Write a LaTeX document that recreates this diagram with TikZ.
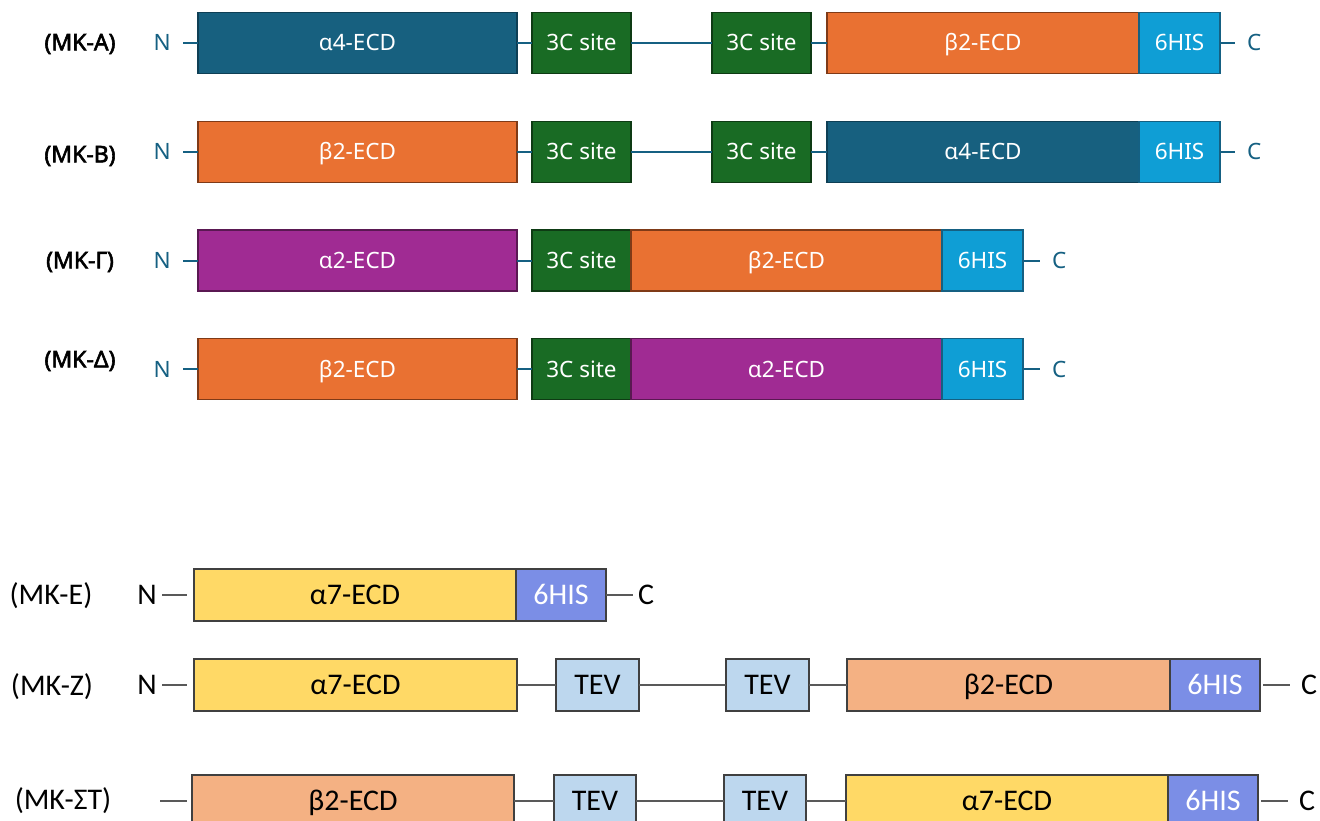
\documentclass[tikz,border=0pt]{standalone}
\usepackage{fontspec}
\usetikzlibrary{positioning}

\newfontfamily\topfont[AutoFakeBold=2.5]{Noto Sans}
\newfontfamily\botfont{Carlito}

\definecolor{a4fill}{HTML}{17607F}
\definecolor{a4line}{HTML}{0E3F55}
\definecolor{b2fill}{HTML}{E97132}
\definecolor{b2line}{HTML}{7F3A17}
\definecolor{a2fill}{HTML}{A02B93}
\definecolor{a2line}{HTML}{5A1852}
\definecolor{c3fill}{HTML}{196B24}
\definecolor{c3line}{HTML}{0E3B14}
\definecolor{hisfill}{HTML}{0F9ED5}
\definecolor{hisline}{HTML}{156082}
\definecolor{tline}{HTML}{156082}
\definecolor{a7fill}{HTML}{FFD966}
\definecolor{sfill}{HTML}{F4B183}
\definecolor{tevfill}{HTML}{BDD7EE}
\definecolor{bhisfill}{HTML}{7B8EE6}
\definecolor{bedge}{HTML}{404040}
\definecolor{blinec}{HTML}{595959}

\tikzset{
  tdom/.style={draw, rectangle, outer sep=0pt, inner sep=0pt, minimum height=61pt, line width=1.2pt, text=white, text height=16pt, text depth=0pt, font=\topfont\fontsize{22.5}{26}\selectfont},
  a4dom/.style={tdom, fill=a4fill, draw=a4line, minimum width=319pt},
  b2dom/.style={tdom, fill=b2fill, draw=b2line, minimum width=319pt},
  a2dom/.style={tdom, fill=a2fill, draw=a2line, minimum width=319pt},
  c3dom/.style={tdom, fill=c3fill, draw=c3line, minimum width=99pt},
  hisdom/.style={tdom, fill=hisfill, draw=hisline, minimum width=81pt},
  tlbl/.style={font=\topfont\bfseries\fontsize{23}{27}\selectfont},
  tterm/.style={text=tline, inner xsep=12pt, inner ysep=0pt, text height=16pt, text depth=0pt, font=\topfont\fontsize{22.5}{26}\selectfont},
  tlink/.style={draw=tline, line width=2pt},
  bdom/.style={draw=bedge, rectangle, outer sep=0pt, inner sep=0pt, minimum height=52pt, line width=1.2pt, text height=19.5pt, text depth=0pt, font=\botfont\fontsize{30}{36}\selectfont},
  a7dom/.style={bdom, fill=a7fill, minimum width=322pt},
  sdom/.style={bdom, fill=sfill, minimum width=322pt},
  tevdom/.style={bdom, fill=tevfill, minimum width=83pt},
  bhisdom/.style={bdom, fill=bhisfill, text=white, minimum width=90pt},
  blbl/.style={font=\botfont\fontsize{30}{36}\selectfont},
  bterm/.style={inner xsep=5pt, inner ysep=0pt, text height=19.5pt, text depth=0pt, font=\botfont\fontsize{30}{36}\selectfont},
  blink/.style={draw=blinec, line width=1.5pt}
}

\begin{document}
\begin{tikzpicture}[x=1pt, y=-1pt]
  \clip (0,0) rectangle (1320,821);

  % MK-A
  \node[tlbl] (lblA) at (80,44) {(MK-A)};
  \node[a4dom, anchor=west] (a4A) at (198,43) {α4-ECD};
  \node[tterm, left=15pt of a4A] (nA) {N};
  \node[c3dom, right=15pt of a4A] (s1A) {3C site};
  \node[c3dom, right=81pt of s1A] (s2A) {3C site};
  \node[b2dom, minimum width=312pt, right=16pt of s2A] (b2A) {β2-ECD};
  \node[hisdom, right=0pt of b2A] (hA) {6HIS};
  \node[tterm, right=15pt of hA] (cA) {C};
  \draw[tlink] (nA) -- (a4A) (a4A) -- (s1A) (s1A) -- (s2A) (s2A) -- (b2A) (hA) -- (cA);

  % MK-B
  \node[tlbl] (lblB) at (80,156) {(MK-B)};
  \node[b2dom, anchor=west] (b2B) at (198,152) {β2-ECD};
  \node[tterm, left=15pt of b2B] (nB) {N};
  \node[c3dom, right=15pt of b2B] (s1B) {3C site};
  \node[c3dom, right=81pt of s1B] (s2B) {3C site};
  \node[a4dom, minimum width=312pt, right=16pt of s2B] (a4B) {α4-ECD};
  \node[hisdom, right=0pt of a4B] (hB) {6HIS};
  \node[tterm, right=15pt of hB] (cB) {C};
  \draw[tlink] (nB) -- (b2B) (b2B) -- (s1B) (s1B) -- (s2B) (s2B) -- (a4B) (hB) -- (cB);

  % MK-Gamma
  \node[tlbl] (lblG) at (80,262) {(MK-Γ)};
  \node[a2dom, anchor=west] (a2G) at (198,260.5) {α2-ECD};
  \node[tterm, left=15pt of a2G] (nG) {N};
  \node[c3dom, right=15pt of a2G] (sG) {3C site};
  \node[b2dom, minimum width=311pt, right=0pt of sG] (b2G) {β2-ECD};
  \node[hisdom, right=0pt of b2G] (hG) {6HIS};
  \node[tterm, right=17pt of hG] (cG) {C};
  \draw[tlink] (nG) -- (a2G) (a2G) -- (sG) (hG) -- (cG);

  % MK-Delta
  \node[tlbl] (lblD) at (80,361) {(MK-Δ)};
  \node[b2dom, anchor=west] (b2D) at (198,369) {β2-ECD};
  \node[tterm, left=15pt of b2D] (nD) {N};
  \node[c3dom, right=15pt of b2D] (sD) {3C site};
  \node[a2dom, minimum width=311pt, right=0pt of sD] (a2D) {α2-ECD};
  \node[hisdom, right=0pt of a2D] (hD) {6HIS};
  \node[tterm, right=17pt of hD] (cD) {C};
  \draw[tlink] (nD) -- (b2D) (b2D) -- (sD) (hD) -- (cD);

  % MK-E
  \node[blbl] (lblE) at (51,596) {(MK-E)};
  \node[a7dom, anchor=west] (a7E) at (194,595) {α7-ECD};
  \node[bhisdom, right=0pt of a7E] (hE) {6HIS};
  \node[bterm, left=32pt of a7E] (nE) {N};
  \node[bterm, right=27pt of hE] (cE) {C};
  \draw[blink, shorten >=7pt] (nE) -- (a7E);
  \draw[blink] (hE) -- (cE);

  % MK-Z
  \node[blbl] (lblZ) at (52,687) {(MK-Z)};
  \node[a7dom, minimum width=323pt, anchor=west] (a7Z) at (194,685) {α7-ECD};
  \node[bterm, left=32pt of a7Z] (nZ) {N};
  \node[tevdom, right=39pt of a7Z] (t1Z) {TEV};
  \node[tevdom, right=87pt of t1Z] (t2Z) {TEV};
  \node[sdom, minimum width=323pt, right=38pt of t2Z] (b2Z) {β2-ECD};
  \node[bhisdom, right=0pt of b2Z] (hZ) {6HIS};
  \node[bterm, right=36pt of hZ] (cZ) {C};
  \draw[blink, shorten >=7pt] (nZ) -- (a7Z);
  \draw[blink] (a7Z) -- (t1Z) (t1Z) -- (t2Z) (t2Z) -- (b2Z);
  \draw[blink, shorten <=3pt, shorten >=6pt] (hZ) -- (cZ);

  % MK-SigmaT
  \node[blbl] (lblS) at (63,801) {(MK-ΣT)};
  \node[sdom, anchor=west] (b2S) at (192,801) {β2-ECD};
  \coordinate[left=32pt of b2S] (endS);
  \node[tevdom, minimum width=82pt, right=40pt of b2S] (t1S) {TEV};
  \node[tevdom, minimum width=82pt, right=88pt of t1S] (t2S) {TEV};
  \node[a7dom, right=40pt of t2S] (a7S) {α7-ECD};
  \node[bhisdom, right=0pt of a7S] (hS) {6HIS};
  \node[bterm, right=36pt of hS] (cS) {C};
  \draw[blink, shorten >=5pt] (endS) -- (b2S);
  \draw[blink] (b2S) -- (t1S) (t1S) -- (t2S) (t2S) -- (a7S);
  \draw[blink, shorten <=3pt, shorten >=6pt] (hS) -- (cS);
\end{tikzpicture}
\end{document}
